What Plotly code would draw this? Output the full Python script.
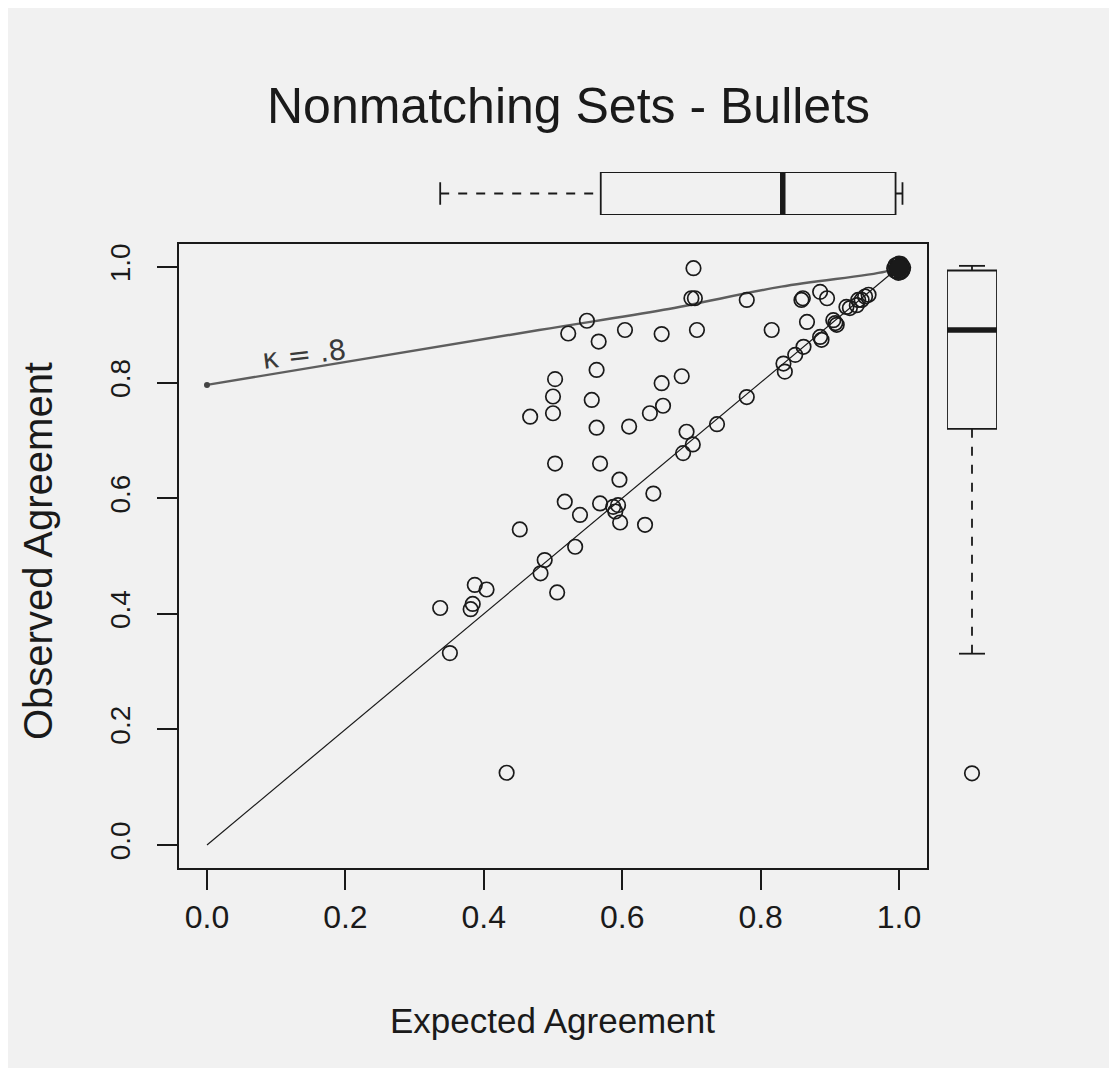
import plotly.graph_objects as go

# ---------------- data ----------------
expected = [0.703, 0.700, 0.705, 0.780, 0.859, 0.861, 0.886, 0.896, 0.549, 0.522,
            0.566, 0.604, 0.657, 0.708, 0.816, 0.867, 0.503, 0.500, 0.467, 0.500,
            0.563, 0.657, 0.686, 0.556, 0.640, 0.659, 0.563, 0.610, 0.503, 0.568,
            0.596, 0.517, 0.539, 0.568, 0.645, 0.633, 0.597, 0.452, 0.433, 0.337,
            0.384, 0.381, 0.387, 0.404, 0.506,
            0.351, 0.488, 0.482, 0.532, 0.587, 0.594, 0.590, 0.693, 0.702, 0.688,
            0.737, 0.780, 0.833, 0.835, 0.850, 0.862, 0.886, 0.888, 0.905, 0.908,
            0.910, 0.924, 0.929, 0.939, 0.946, 0.951, 0.956, 0.941]
observed = [0.998, 0.946, 0.946, 0.943, 0.943, 0.946, 0.957, 0.946, 0.907, 0.885,
            0.871, 0.891, 0.884, 0.891, 0.891, 0.905, 0.806, 0.776, 0.741, 0.747,
            0.822, 0.799, 0.811, 0.770, 0.747, 0.760, 0.722, 0.724, 0.660, 0.660,
            0.632, 0.594, 0.571, 0.591, 0.608, 0.554, 0.558, 0.546, 0.125, 0.410,
            0.417, 0.408, 0.450, 0.442, 0.437,
            0.332, 0.493, 0.470, 0.516, 0.585, 0.588, 0.577, 0.715, 0.693, 0.678,
            0.728, 0.775, 0.833, 0.819, 0.848, 0.862, 0.879, 0.874, 0.908, 0.903,
            0.900, 0.931, 0.929, 0.934, 0.943, 0.949, 0.952, 0.943]

# heap of (near) perfect-agreement points at (1, 1)
heap_expected = [0.993, 0.996, 0.998, 1.000, 1.002, 1.004, 1.006, 0.995, 0.999,
                 1.003, 0.997, 1.001, 1.005, 0.994, 1.000, 1.004, 0.998, 1.002]
heap_observed = [0.998, 0.992, 1.004, 0.996, 1.000, 0.993, 0.999, 1.003, 0.990,
                 1.005, 0.997, 1.001, 0.995, 0.994, 1.006, 1.002, 0.999, 0.991]

# boxplot statistics: lower whisker, Q1, median, Q3, upper whisker
expected_box = [0.337, 0.569, 0.832, 0.995, 1.005]
observed_box = [0.331, 0.720, 0.891, 0.994, 1.002]
observed_outliers = [0.124]

# reference line (observed = expected) and hand-drawn kappa = .8 line
diag_x = [0.0, 1.0]
diag_y = [0.0, 1.0]
kappa_x = [0.0, 0.48, 0.66, 0.83, 0.98, 1.0]
kappa_y = [0.796, 0.891, 0.926, 0.966, 0.992, 1.0]

tick_vals = [0.0, 0.2, 0.4, 0.6, 0.8, 1.0]
tick_text = ["0.0", "0.2", "0.4", "0.6", "0.8", "1.0"]

title_text = "Nonmatching Sets - Bullets"
xlabel = "Expected Agreement"
ylabel = "Observed Agreement"
kappa_label = "κ = .8"

# ---------------- figure ----------------
OFF = 8                      # page body margin of the browser
W, H = 1117 - 2 * OFF, 1076 - 2 * OFF
BG = "#f1f1f1"
INK = "#1a1a1a"
REG = "Liberation Sans, Arial, Helvetica, sans-serif"


def px_x(p):
    return (p - OFF) / W


def px_y(p):
    return (H - (p - OFF)) / H


fig = go.Figure()

# diagonal y = x
fig.add_trace(go.Scatter(x=diag_x, y=diag_y, mode="lines",
                         line=dict(color=INK, width=1.2), hoverinfo="skip",
                         showlegend=False))
# hand drawn kappa line
fig.add_trace(go.Scatter(x=kappa_x, y=kappa_y, mode="lines",
                         line=dict(color="#5e5e5e", width=2.4, shape="spline"),
                         hoverinfo="skip", showlegend=False))
fig.add_trace(go.Scatter(x=kappa_x[:1], y=kappa_y[:1], mode="markers",
                         marker=dict(color="#444", size=6), hoverinfo="skip",
                         showlegend=False))

# scatter points
mk = dict(symbol="circle-open", size=14.5, color=INK, line=dict(width=1.7, color=INK))
fig.add_trace(go.Scatter(x=expected, y=observed, mode="markers", marker=mk,
                         showlegend=False))
fig.add_trace(go.Scatter(x=heap_expected, y=heap_observed, mode="markers",
                         marker=mk, showlegend=False))
fig.add_trace(go.Scatter(x=[sum(heap_expected) / len(heap_expected)],
                         y=[sum(heap_observed) / len(heap_observed)],
                         mode="markers", marker=dict(symbol="circle", size=19, color=INK),
                         showlegend=False, hoverinfo="skip"))


def add_box(stats, horizontal, xa, ya):
    lo, q1, med, q3, hi = stats
    c0, c1, cm = 0.0, 1.0, 0.5
    k0, k1 = 0.24, 0.76

    def seg(a, b, dash="solid", width=1.8):
        if horizontal:
            xs, ys = a, b
        else:
            xs, ys = b, a
        fig.add_trace(go.Scatter(x=xs, y=ys, mode="lines", xaxis=xa, yaxis=ya,
                                 line=dict(color=INK, width=width, dash=dash),
                                 hoverinfo="skip", showlegend=False))
    seg([q1, q3, q3, q1, q1], [c0, c0, c1, c1, c0])      # box
    seg([med, med], [c0, c1], width=5.5)                # median
    seg([lo, q1], [cm, cm], dash="dash")                # whiskers
    seg([q3, hi], [cm, cm], dash="dash")
    seg([lo, lo], [k0, k1])                             # staples
    seg([hi, hi], [k0, k1])


add_box(expected_box, True, "x", "y2")
add_box(observed_box, False, "x3", "y")
fig.add_trace(go.Scatter(x=[0.5] * len(observed_outliers), y=observed_outliers,
                         mode="markers", xaxis="x3", yaxis="y", marker=mk,
                         showlegend=False))

# plot region in pixels (R style 4% extension)
L, R_, T, B = 179.3, 926.7, 243.9, 868.1

axis_common = dict(showgrid=False, zeroline=False, showline=True, linecolor=INK,
                   linewidth=1.8, mirror=True, ticks="outside", ticklen=20,
                   tickwidth=1.6, tickcolor=INK, tickvals=tick_vals, ticktext=tick_text)

fig.update_layout(
    width=W, height=H, autosize=False,
    margin=dict(l=0, r=0, t=0, b=0),
    paper_bgcolor=BG, plot_bgcolor=BG,
    xaxis=dict(domain=[px_x(L), px_x(R_)], range=[-0.04, 1.04], anchor="y",
               tickfont=dict(family=REG, size=32, color=INK),
               ticklabelstandoff=0, **axis_common),
    yaxis=dict(domain=[px_y(B), px_y(T)], range=[-0.04, 1.04], anchor="x",
               tickangle=-90, tickfont=dict(family=REG, size=28, color=INK),
               ticklabelstandoff=16, **axis_common),
    yaxis2=dict(domain=[px_y(215), px_y(172)], range=[0, 1], anchor="x",
                visible=False, fixedrange=True),
    xaxis3=dict(domain=[px_x(947), px_x(997)], range=[0, 1], anchor="y",
                visible=False, fixedrange=True),
    annotations=[
        dict(text=title_text, x=px_x(568), y=px_y(106), xref="paper", yref="paper",
             showarrow=False, xanchor="center", yanchor="middle",
             font=dict(family=REG, size=50, color=INK)),
        dict(text=xlabel, x=px_x(552), y=px_y(1020), xref="paper", yref="paper",
             showarrow=False, xanchor="center", yanchor="middle",
             font=dict(family=REG, size=35, color=INK)),
        dict(text=ylabel, x=px_x(38), y=px_y(551), xref="paper", yref="paper",
             showarrow=False, xanchor="center", yanchor="middle", textangle=-90,
             font=dict(family=REG, size=40, color=INK)),
        dict(text=kappa_label, x=0.14, y=0.848, xref="x", yref="y",
             showarrow=False, xanchor="center", yanchor="middle", textangle=-7,
             font=dict(family="DejaVu Sans, sans-serif", size=28, color="#3a3a3a")),
    ],
)

fig.write_html("out.html")
